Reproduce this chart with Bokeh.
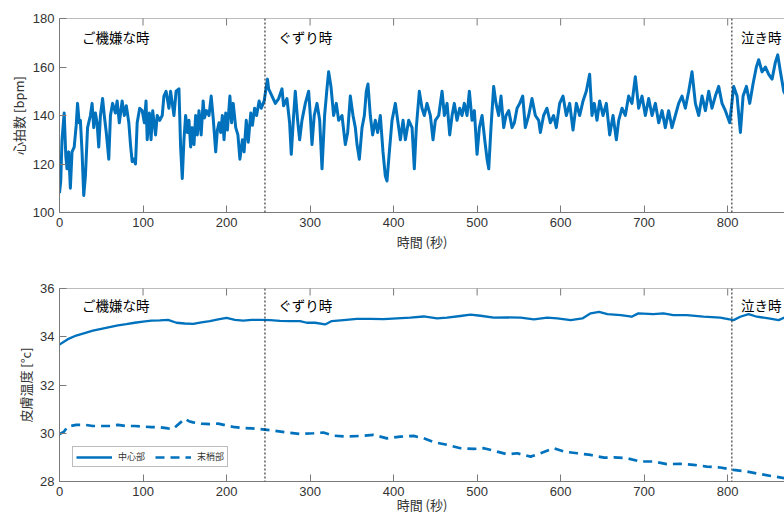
import math
from bokeh.plotting import figure
from bokeh.models import Range1d, Span, Legend, LegendItem, FixedTicker
from bokeh.layouts import column
from bokeh.embed import file_html
from bokeh.resources import INLINE
from bokeh.core.properties import value

# ---------------- data ----------------
hr_time = [0, 1.5, 3, 5.6, 7.6, 9, 11, 13, 15, 17.6, 20, 21.6, 23.6, 25, 27, 29, 31, 33.6, 37, 39, 41, 43, 45, 47, 49,
           51.6, 53.6, 56, 59, 61, 63.6, 67, 69, 71.6, 75, 77.6, 80, 83, 85, 87, 89, 91, 93, 96, 99, 101.6, 103.6,
           105, 107.6, 109.6, 111.6, 115, 117, 120, 123, 125, 127.6, 131, 133, 135, 137, 139.6, 143, 145, 147, 149,
           151, 153, 155, 157, 159, 161, 163, 165, 167, 169.6, 172, 173.6, 176, 179, 181.6, 184, 187, 189, 191, 193,
           195, 197, 199, 201, 204, 206, 208, 211, 213.6, 216, 219, 221, 223.6, 226, 229, 231, 233.6, 236, 239,
           241.6, 245, 249,
           250.4, 254.4, 258.4, 262.4, 266.4, 268.3, 272.3, 275.5, 277.5, 280.3, 282.3, 285.1, 287.5, 290.3, 294.3,
           298.3, 300.3, 302.3, 305, 308.3, 311.5, 314.3, 317.4, 320.2, 322.2, 325, 328.2, 331.4, 334.2, 338.2,
           342.2, 345, 348.2, 351.4, 354.2, 356.2, 359, 362.2, 365, 367.3, 369.3, 372.1, 374.9, 378.1, 380.9, 384.1,
           387.3, 390.1, 392.1, 394.9, 398.1, 402.1, 404.9, 408.1, 411.3, 414.1, 418.1, 422.1, 424.8, 427.2, 430.8,
           434, 436.8, 440, 444, 447.2, 450, 454, 458, 460.8, 464, 467.2, 470, 472.7, 475.9, 479.1, 481.9, 484.7,
           487.9, 490.7, 493.9, 496.7, 499.9, 502.7, 505.9, 509.1, 511.9, 513.9, 516.6, 519.8, 522.6, 525.8, 528.6,
           531.8, 534.6, 537.8, 541.8, 544.6, 547.8, 551, 554.6,
           557.7, 561.7, 565.7, 569.7, 573.7, 575.7, 579.6, 583.6, 587.6, 591.6, 594.8, 598.8, 602.8, 606.8, 610.8,
           614.8, 618.8, 622.8, 626.8, 630.7, 634.7, 637.5, 640.3, 643.5, 646.7, 650.7, 654.7, 658.7, 662.7, 666.7,
           669.5, 673.5, 677.4, 681.4, 685.4, 689.4, 693.4, 697.4, 701.4, 705.4, 709.4, 713.4, 717.4, 721.4, 725.3,
           729.3, 733.3, 737.3, 741.3, 745.3, 749.3, 753.3, 757.3, 761.3, 765.3, 769.3, 773.3, 777.3, 781.2, 785.2,
           789.2, 793.2, 797.2, 802.4, 807.2, 811.2, 815.2, 818.4, 822.4, 826.4, 830.3, 834.3, 837.1, 841.1, 845.1,
           849.1, 853.1, 857.1, 859.9, 863.1, 867.1, 870]
hr_bpm = [108, 113, 130, 141, 123, 118, 125, 110, 125, 127, 136, 145, 137, 138, 125, 107, 115, 135, 140, 145, 135, 141,
          137, 127, 140, 147, 140, 133, 122, 140, 145, 141, 146, 137, 146, 140, 144, 137, 128, 121, 122, 120, 137, 143,
          142, 137, 146, 130, 141, 130, 142, 132, 140, 138, 140, 148, 150, 143, 150, 145, 140, 150, 151, 127, 114, 130,
          140, 133, 138, 127, 135, 128, 140, 132, 142, 132, 146, 139, 142, 140, 148, 139, 125, 134, 137, 133, 140, 130,
          141, 134, 148, 137, 145, 135, 132, 122, 130, 125, 138, 129, 141, 136, 143, 140, 146, 143, 146, 155,
          151, 148, 145, 147, 151, 144, 147, 137, 124, 140, 150, 138, 130, 138, 145, 150, 140, 128, 140, 145, 138, 118,
          140, 151, 158, 152, 140, 145, 138, 140, 128, 133, 148, 140, 135, 128, 122, 135, 140, 150, 153, 140, 132, 138,
          133, 140, 125, 115, 113, 125, 138, 145, 138, 130, 138, 130, 138, 135, 118, 135, 150, 143, 140, 145, 140, 130,
          138, 140, 150, 140, 145, 132, 140, 145, 138, 143, 140, 145, 140, 150, 138, 142, 124, 135, 140, 130, 122, 118,
          135, 152, 145, 140, 148, 135, 140, 142, 135, 137, 143, 145, 148,
          135, 140, 147, 140, 138, 133, 140, 143, 137, 140, 135, 145, 148, 140, 145, 134, 145, 140, 146, 150, 157, 140,
          145, 138, 146, 140, 145, 132, 140, 130, 138, 143, 140, 148, 145, 156, 143, 148, 140, 147, 140, 145, 137, 142,
          135, 142, 135, 140, 145, 148, 143, 150, 158, 145, 140, 148, 142, 150, 143, 148, 152, 145, 142, 137, 152, 148,
          133, 148, 152, 145, 153, 160, 163, 158, 160, 157, 155, 162, 165, 158, 150, 148]

core_time = [0, 10, 20, 30, 40, 50, 60, 70, 80, 90, 100, 110, 120, 130, 140, 150, 160, 170, 180, 190, 200, 210, 220,
             230, 240, 252, 264, 276, 288, 296, 306, 318, 326, 340, 356, 372, 388, 404, 420, 436, 452, 464, 480, 492,
             504, 520, 536, 552, 568, 584, 596, 612, 626, 636, 646, 656, 672, 685, 693, 711, 723, 735, 751, 771, 791,
             807, 815, 825, 835, 849, 861, 870]
core_temp = [33.68, 33.9, 34.05, 34.15, 34.25, 34.33, 34.4, 34.47, 34.52, 34.58, 34.63, 34.67, 34.68, 34.7, 34.58,
             34.55, 34.53, 34.6, 34.65, 34.72, 34.78, 34.7, 34.67, 34.7, 34.7, 34.69, 34.66, 34.65, 34.65, 34.58, 34.58,
             34.51, 34.65, 34.69, 34.74, 34.74, 34.73, 34.76, 34.79, 34.84, 34.76, 34.79, 34.86, 34.92, 34.87, 34.79,
             34.8, 34.79, 34.72, 34.79, 34.76, 34.69, 34.76, 34.97, 35.03, 34.94, 34.9, 34.83, 34.97, 34.94, 34.97,
             34.9, 34.9, 34.83, 34.79, 34.69, 34.83, 34.94, 34.83, 34.76, 34.69, 34.83]

peri_time = [0, 5, 10, 20, 30, 40, 50, 60, 70, 80, 90, 100, 110, 120, 130, 136, 140, 145, 150, 155, 160, 170, 180, 190,
             200, 210, 220, 230, 240, 256, 272, 288, 304, 316, 328, 344, 360, 376, 392, 408, 424, 436, 448, 464, 480,
             496, 508, 524, 536, 548, 564, 576, 592, 604, 620, 636, 652, 664, 679, 695, 711, 727, 743, 759, 775, 791,
             807, 823, 839, 855, 868]
peri_temp = [29.97, 30.05, 30.28, 30.35, 30.35, 30.3, 30.3, 30.3, 30.35, 30.3, 30.3, 30.28, 30.25, 30.25, 30.2, 30.18,
             30.3, 30.45, 30.6, 30.5, 30.45, 30.4, 30.38, 30.4, 30.32, 30.25, 30.22, 30.2, 30.17, 30.11, 30.03, 29.97,
             30.0, 30.03, 29.9, 29.86, 29.89, 29.93, 29.79, 29.86, 29.89, 29.79, 29.63, 29.52, 29.38, 29.35, 29.38,
             29.24, 29.13, 29.17, 29.03, 29.17, 29.38, 29.24, 29.17, 29.1, 28.99, 29.0, 28.97, 28.83, 28.83, 28.72,
             28.73, 28.69, 28.62, 28.58, 28.48, 28.41, 28.31, 28.21, 28.14]

phase_start = [246, 805]
phase_labels = ["ご機嫌な時", "ぐずり時", "泣き時"]
phase_label_x = [27, 262, 816]

x_ticks = [0, 100, 200, 300, 400, 500, 600, 700, 800]
hr_ticks = [100, 120, 140, 160, 180]
temp_ticks = [28, 30, 32, 34, 36]
legend_labels = ["中心部", "末梢部"]

# ---------------- style ----------------
BLUE = "#0072BD"
AX = "#7a7a7a"
TXT = "#333333"
JP = "Noto Sans CJK JP"


def make_fig(height, top_border, yr, yticks, ylabel, label_standoff):
    p = figure(width=784, height=height, x_range=Range1d(0, 868), y_range=Range1d(*yr),
               output_backend="svg", toolbar_location=None,
               min_border_left=59, min_border_right=0, min_border_top=top_border, min_border_bottom=0)
    p.outline_line_color = None
    p.grid.visible = False
    p.background_fill_color = "white"
    p.xaxis.ticker = FixedTicker(ticks=x_ticks)
    p.yaxis.ticker = FixedTicker(ticks=yticks)
    p.xaxis.axis_label = "時間 (秒)"
    p.yaxis.axis_label = ylabel
    for ax in p.xaxis + p.yaxis:
        ax.major_tick_in = 7
        ax.major_tick_out = 0
        ax.minor_tick_in = 0
        ax.minor_tick_out = 0
        ax.axis_line_color = AX
        ax.major_tick_line_color = AX
        ax.major_label_text_color = TXT
        ax.major_label_text_font = "Liberation Sans"
        ax.major_label_text_font_size = "13px"
        ax.major_label_standoff = 5
        ax.axis_label_text_color = TXT
        ax.axis_label_text_font = JP
        ax.axis_label_text_font_style = "normal"
        ax.axis_label_text_font_size = "13px"
        ax.axis_label_standoff = 2
    p.xaxis.axis_label_standoff = label_standoff
    # top border of the box with inward ticks
    p.add_layout(Span(location=yr[1], dimension="width", line_color=AX, line_width=1))
    p.scatter(x=x_ticks, y=[yr[1]] * len(x_ticks), marker="dash", angle=math.pi / 2, size=14,
              line_color=AX, line_width=1)
    for xs in phase_start:
        p.add_layout(Span(location=xs, dimension="height", line_color="#111111",
                          line_dash="2 2", line_width=1))
    return p


p1 = make_fig(253, 18, (100, 180), hr_ticks, "心拍数 [bpm]", 2)
p1.line(hr_time, hr_bpm, line_color=BLUE, line_width=3, line_join="round")
p1.text(x=phase_label_x, y=[172.3] * 3, text=phase_labels, text_font=value(JP), text_font_size="13.5px",
        text_color="black", text_baseline="middle", text_align="left")

p2 = make_fig(263, 35, (28, 36), temp_ticks, "皮膚温度 [°c]", -4)
r_core = p2.line(core_time, core_temp, line_color=BLUE, line_width=2.3, line_join="round")
r_peri = p2.line(peri_time, peri_temp, line_color=BLUE, line_width=2.7, line_dash="9 6")
p2.text(x=phase_label_x, y=[35.31] * 3, text=phase_labels, text_font=value(JP), text_font_size="13.5px",
        text_color="black", text_baseline="middle", text_align="left")

legend = Legend(items=[LegendItem(label=legend_labels[0], renderers=[r_core]),
                       LegendItem(label=legend_labels[1], renderers=[r_peri])],
                location=(13, 14), orientation="horizontal")
legend.label_text_font = JP
legend.label_text_font_size = "9px"
legend.label_text_color = TXT
legend.glyph_width = 36
legend.glyph_height = 10
legend.label_standoff = 6
legend.spacing = 10
legend.padding = 3
legend.margin = 0
legend.border_line_color = AX
legend.border_line_width = 1
legend.background_fill_alpha = 1
p2.add_layout(legend)

layout = column(p1, p2, spacing=0)
open("out.html", "w").write(file_html(layout, INLINE))
